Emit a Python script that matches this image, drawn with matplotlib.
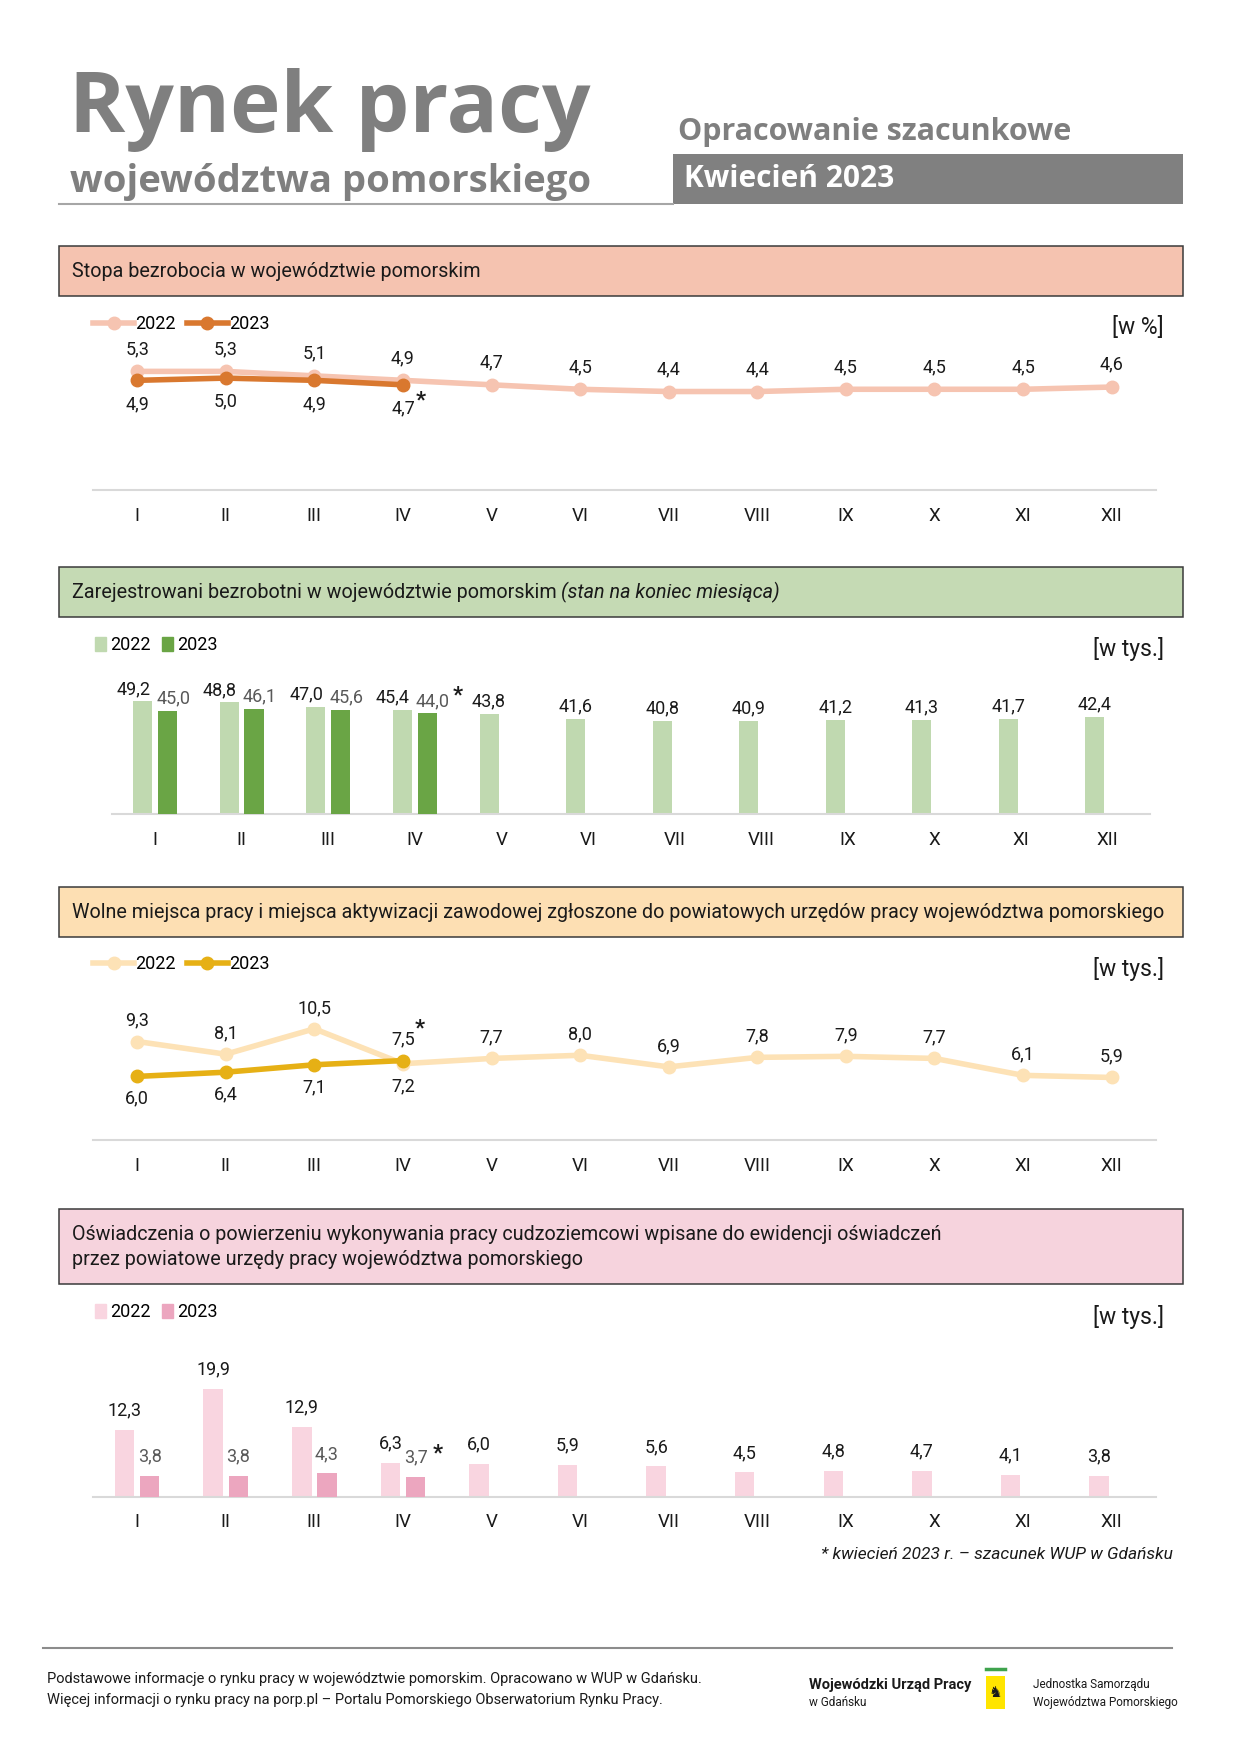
import matplotlib.pyplot as plt
import numpy as np
from matplotlib.patches import Rectangle, Patch
from matplotlib.lines import Line2D

plt.rcParams['font.family'] = ['Roboto', 'DejaVu Sans']

# ---- data ----
months = ['I', 'II', 'III', 'IV', 'V', 'VI', 'VII', 'VIII', 'IX', 'X', 'XI', 'XII']
years = ['2022', '2023']

rate_2022 = [5.3, 5.3, 5.1, 4.9, 4.7, 4.5, 4.4, 4.4, 4.5, 4.5, 4.5, 4.6]
rate_2023 = [4.9, 5.0, 4.9, 4.7]

unemp_2022 = [49.2, 48.8, 47.0, 45.4, 43.8, 41.6, 40.8, 40.9, 41.2, 41.3, 41.7, 42.4]
unemp_2023 = [45.0, 46.1, 45.6, 44.0]

vac_2022 = [9.3, 8.1, 10.5, 7.2, 7.7, 8.0, 6.9, 7.8, 7.9, 7.7, 6.1, 5.9]
vac_2023 = [6.0, 6.4, 7.1, 7.5]

decl_2022 = [12.3, 19.9, 12.9, 6.3, 6.0, 5.9, 5.6, 4.5, 4.8, 4.7, 4.1, 3.8]
decl_2023 = [3.8, 3.8, 4.3, 3.7]

# layout helpers (design canvas in screen units)
W, H = 1109, 1568
HEAD_FONT = ['Open Sans', 'DejaVu Sans']


def fx(x):
    return x / W


def fy(y):
    return 1 - y / H


def box(x0, y0, x1, y1):
    return [fx(x0), fy(y1), fx(x1) - fx(x0), fy(y0) - fy(y1)]


def fmt(v):
    return f"{v:.1f}".replace('.', ',')


fig = plt.figure(figsize=(12.41, 17.54), dpi=100)
fig.patch.set_facecolor('white')

# ---- header ----
fig.text(fx(62), fy(118), 'Rynek pracy', fontsize=61.5, weight='bold', color='#7f7f7f',
         va='baseline', family=HEAD_FONT)
fig.text(fx(63), fy(172), 'województwa pomorskiego', fontsize=27.5, weight='bold', color='#7f7f7f',
         va='baseline', family=HEAD_FONT)
fig.add_artist(Line2D([fx(53), fx(601)], [fy(182), fy(182)], color='#a6a6a6', lw=1.5))
fig.text(fx(606), fy(125), 'Opracowanie szacunkowe', fontsize=22, weight='bold', color='#7f7f7f',
         va='baseline', family=HEAD_FONT)
fig.patches.append(Rectangle((fx(601), fy(182)), fx(1057) - fx(601), fy(138) - fy(182),
                             transform=fig.transFigure, facecolor='#808080', edgecolor='none'))
fig.text(fx(611), fy(160), 'Kwiecień 2023', fontsize=21.5, weight='bold', color='white',
         va='center', family=HEAD_FONT)


def section_header(y0, y1, color, lines):
    fig.patches.append(Rectangle((fx(53), fy(y1)), fx(1057) - fx(53), fy(y0) - fy(y1),
                                 transform=fig.transFigure, facecolor=color,
                                 edgecolor='#3a3a3a', lw=1.1))
    n = len(lines)
    for i, ln in enumerate(lines):
        yc = (y0 + y1) / 2 + (i - (n - 1) / 2) * 22
        fig.text(fx(64), fy(yc), ln, fontsize=14.2, color='#1a1a1a', va='center')


def style_axes(ax):
    for s in ['top', 'left', 'right']:
        ax.spines[s].set_visible(False)
    ax.spines['bottom'].set_color('#d9d9d9')
    ax.spines['bottom'].set_linewidth(1.5)
    ax.set_yticks([])
    ax.set_xticks(np.arange(12), months)
    ax.tick_params(axis='x', length=0, pad=12, labelsize=13.5, labelcolor='#1a1a1a')
    ax.set_xlim(-0.5, 11.5)
    ax.patch.set_alpha(0)


def unit_label(y, txt):
    fig.text(fx(1040), fy(y), txt, ha='right', va='center', fontsize=16.5, color='#1a1a1a')


def line_legend(y, c22, c23):
    handles = [Line2D([0], [0], color=c22, lw=4, marker='o', ms=9),
               Line2D([0], [0], color=c23, lw=4, marker='o', ms=9)]
    fig.legend(handles, years, loc='center left', bbox_to_anchor=(fx(75), fy(y)),
               bbox_transform=fig.transFigure, ncol=2, frameon=False, fontsize=13,
               handlelength=2.3, handletextpad=0.05, columnspacing=0.6, borderpad=0)


def bar_legend(y, c22, c23):
    handles = [Patch(color=c22), Patch(color=c23)]
    fig.legend(handles, years, loc='center left', bbox_to_anchor=(fx(77), fy(y)),
               bbox_transform=fig.transFigure, ncol=2, frameon=False, fontsize=13,
               handlelength=0.6, handleheight=0.8, handletextpad=0.25, columnspacing=0.6,
               borderpad=0)


def line_chart(ax, v22, v23, c22, c23, up, down, flip=()):
    x = np.arange(12)
    x23 = np.arange(len(v23))
    ax.plot(x, v22, color=c22, lw=4, marker='o', ms=9, zorder=2, solid_capstyle='round')
    ax.plot(x23, v23, color=c23, lw=4, marker='o', ms=9, zorder=3, solid_capstyle='round')
    for i, v in enumerate(v22):
        off = -down if i in flip else up
        ax.annotate(fmt(v), (i, v), xytext=(0, off), textcoords='offset points',
                    ha='center', va='center', fontsize=13, color='#1a1a1a')
    for i, v in enumerate(v23):
        off = up if i in flip else -down
        ax.annotate(fmt(v), (i, v), xytext=(0, off), textcoords='offset points',
                    ha='center', va='center', fontsize=13, color='#1a1a1a')
    style_axes(ax)


def bar_chart(ax, v22, v23, c22, c23, off, spread=0):
    x = np.arange(12)
    x23 = np.arange(len(v23))
    ax.bar(x - 0.142, v22, width=0.22, color=c22, zorder=2)
    ax.bar(x23 + 0.142, v23, width=0.22, color=c23, zorder=3)
    n23 = len(v23)
    for i, v in enumerate(v22):
        dx = -spread if i < n23 else 0
        ax.annotate(fmt(v), (i - 0.142, v), xytext=(dx, off), textcoords='offset points',
                    ha='center', va='center', fontsize=13, color='#1a1a1a')
    for i, v in enumerate(v23):
        ax.annotate(fmt(v), (i + 0.142, v), xytext=(spread * 0.6, off), textcoords='offset points',
                    ha='center', va='center', fontsize=13, color='#595959')
    style_axes(ax)


def star(ax, x, y, dx, dy):
    ax.annotate('*', (x, y), xytext=(dx, dy), textcoords='offset points',
                ha='center', va='center', fontsize=16, weight='bold', color='#1a1a1a')


# ---- section 1: unemployment rate ----
section_header(220, 265, '#f5c3b0', ['Stopa bezrobocia w województwie pomorskim'])
line_legend(290, '#f6c4b1', '#d9782f')
unit_label(293, '[w %]')
ax1 = fig.add_axes(box(83, 300, 1033, 438))
ax1.set_ylim(0, 6.9)
line_chart(ax1, rate_2022, rate_2023, '#f6c4b1', '#d9782f', up=16, down=17)
star(ax1, 3, rate_2023[3], 13, -11)

# ---- section 2: registered unemployed ----
section_header(507, 552, '#c5dab4', [''])
t = fig.text(fx(64), fy(529.5), 'Zarejestrowani bezrobotni w województwie pomorskim ',
             fontsize=14.2, color='#1a1a1a', va='center')
fig.canvas.draw()
bb = t.get_window_extent().transformed(fig.transFigure.inverted())
fig.text(bb.x1, fy(529.5), '(stan na koniec miesiąca)', fontsize=14.2, style='italic',
         color='#1a1a1a', va='center')
bar_legend(577, '#c0d9b0', '#6aa545')
unit_label(580, '[w tys.]')
ax2 = fig.add_axes(box(100, 600, 1028, 728))
ax2.set_ylim(0, 62.4)
bar_chart(ax2, unemp_2022, unemp_2023, '#c0d9b0', '#6aa545', off=9, spread=7)
star(ax2, 3 + 0.142, unemp_2023[3], 22, 13)

# ---- section 3: job offers ----
section_header(793, 838, '#fddfb3', ['Wolne miejsca pracy i miejsca aktywizacji zawodowej zgłoszone '
                                     'do powiatowych urzędów pracy województwa pomorskiego'])
line_legend(862, '#fde2b6', '#e6b015')
unit_label(866, '[w tys.]')
ax3 = fig.add_axes(box(83, 880, 1033, 1019))
ax3.set_ylim(0, 14.7)
line_chart(ax3, vac_2022, vac_2023, '#fde2b6', '#e6b015', up=15, down=16, flip=(3,))
star(ax3, 3, vac_2023[3], 12, 23)

# ---- section 4: declarations ----
section_header(1081, 1148, '#f6d3dd',
               ['Oświadczenia o powierzeniu wykonywania pracy cudzoziemcowi wpisane do ewidencji oświadczeń',
                'przez powiatowe urzędy pracy województwa pomorskiego'])
bar_legend(1173, '#f9d5e0', '#eca6bf')
unit_label(1177, '[w tys.]')
ax4 = fig.add_axes(box(83, 1200, 1033, 1338))
ax4.set_ylim(0, 28.5)
bar_chart(ax4, decl_2022, decl_2023, '#f9d5e0', '#eca6bf', off=14)
star(ax4, 3 + 0.142, decl_2023[3], 16, 17)

fig.text(fx(1048), fy(1390), '* kwiecień 2023 r. – szacunek WUP w Gdańsku', ha='right', va='center',
         fontsize=12.5, style='italic', color='#1a1a1a')

# ---- footer ----
fig.add_artist(Line2D([fx(38), fx(1047)], [fy(1473), fy(1473)], color='#8c8c8c', lw=1.5))
fig.text(fx(42), fy(1501), 'Podstawowe informacje o rynku pracy w województwie pomorskim. '
         'Opracowano w WUP w Gdańsku.', fontsize=10.5, va='center', color='#1a1a1a')
fig.text(fx(42), fy(1520), 'Więcej informacji o rynku pracy na porp.pl – Portalu Pomorskiego '
         'Obserwatorium Rynku Pracy.', fontsize=10.5, va='center', color='#1a1a1a')
fig.text(fx(723), fy(1506), 'Wojewódzki Urząd Pracy', fontsize=10.5, weight='bold', va='center',
         color='#1a1a1a')
fig.text(fx(723), fy(1522), 'w Gdańsku', fontsize=8.5, va='center', color='#1a1a1a')
fig.add_artist(Line2D([fx(881), fx(898)], [fy(1492), fy(1492)], color='#3fa34d', lw=2.5))
fig.patches.append(Rectangle((fx(881), fy(1528)), fx(898) - fx(881), fy(1498) - fy(1528),
                             transform=fig.transFigure, facecolor='#ffe500', edgecolor='none'))
fig.text(fx(889.5), fy(1513), '♞', fontsize=11, ha='center', va='center', color='#1a1a1a',
         family=['DejaVu Sans'])
fig.text(fx(923), fy(1506), 'Jednostka Samorządu', fontsize=8.5, va='center', color='#1a1a1a')
fig.text(fx(923), fy(1522), 'Województwa Pomorskiego', fontsize=8.5, va='center', color='#1a1a1a')

fig.savefig('out.png', dpi=100)
